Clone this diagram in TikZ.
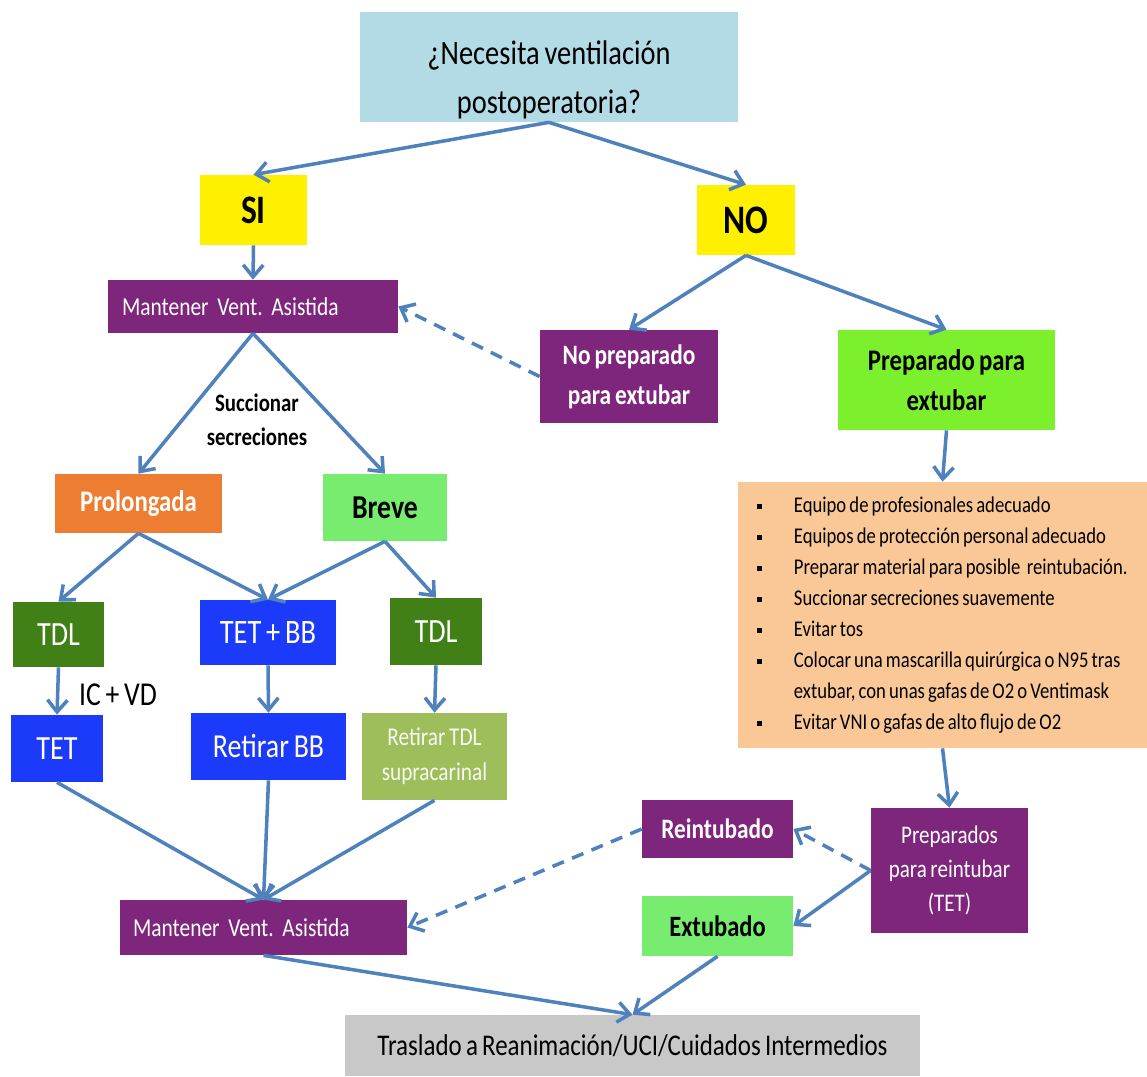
\documentclass[tikz,border=0pt]{standalone}
\usepackage{fontspec}
\setmainfont{Carlito}[FakeStretch=0.83,WordSpace=0.75]
\usetikzlibrary{arrows.meta}
\frenchspacing

\definecolor{qblue}{RGB}{178,219,229}
\definecolor{siyellow}{RGB}{255,240,0}
\definecolor{vpurple}{RGB}{126,38,124}
\definecolor{limegreen}{RGB}{124,240,44}
\definecolor{softgreen}{RGB}{120,236,110}
\definecolor{prolorange}{RGB}{237,125,49}
\definecolor{darkgreen}{RGB}{64,128,22}
\definecolor{tetblue}{RGB}{28,58,250}
\definecolor{olivegreen}{RGB}{158,190,92}
\definecolor{peach}{RGB}{250,200,150}
\definecolor{lightgrey}{RGB}{200,200,200}
\definecolor{arrowblue}{RGB}{79,129,189}

\newcommand{\sqbullet}{\raisebox{2.2pt}{\rule{2.8pt}{2.8pt}}}

\tikzset{
  box/.style={inner sep=0pt, align=center},
  purplebox/.style={box, fill=vpurple, text=white},
  conn/.style={draw=arrowblue, line width=2pt, -{Straight Barb[length=2.4mm,width=4mm]}},
  dashconn/.style={conn, dash pattern=on 7pt off 5pt},
}

\begin{document}
\begin{tikzpicture}
  \useasboundingbox[fill=white] (0,0) rectangle (22.94,-21.52);

  % question and answers
  \node[box, fill=qblue, minimum width=7.56cm, minimum height=2.2cm, font=\fontsize{19.5}{27.8}\selectfont] (q) at (10.98,-1.34) {\rule{0pt}{28pt}¿Necesita ventilación\\postoperatoria?};
  \node[box, fill=siyellow, minimum width=2.14cm, minimum height=1.4cm, font=\fontsize{23}{28}\selectfont\bfseries] (si) at (5.07,-4.2) {SI};
  \node[box, fill=siyellow, minimum width=1.96cm, minimum height=1.4cm, font=\fontsize{23}{28}\selectfont\bfseries] (no) at (14.92,-4.4) {NO};

  % SI branch
  \node[purplebox, minimum width=5.8cm, minimum height=1.06cm, text width=5.24cm, align=left, font=\fontsize{14.7}{18}\selectfont] (mva) at (5.06,-6.13) {Mantener Vent. Asistida};
  \node[box, font=\fontsize{14.3}{19.3}\selectfont\bfseries] (succ) at (5.14,-8.4) {Succionar\\secreciones};
  \node[box, fill=prolorange, text=white, minimum width=3.34cm, minimum height=1.18cm, font=\fontsize{17}{20}\selectfont\bfseries] (prol) at (2.77,-10.07) {Prolongada};
  \node[box, fill=softgreen, minimum width=2.48cm, minimum height=1.34cm, font=\fontsize{19}{22}\selectfont\bfseries] (breve) at (7.7,-10.15) {Breve};
  \node[box, fill=darkgreen, text=white, minimum width=1.82cm, minimum height=1.3cm, font=\fontsize{19.3}{22}\selectfont] (tdla) at (1.17,-12.69) {TDL};
  \node[box, fill=tetblue, text=white, minimum width=2.72cm, minimum height=1.3cm, font=\fontsize{19.5}{22}\selectfont] (tetbb) at (5.36,-12.65) {TET + BB};
  \node[box, fill=darkgreen, text=white, minimum width=1.84cm, minimum height=1.34cm, font=\fontsize{19.3}{22}\selectfont] (tdlb) at (8.72,-12.63) {TDL};
  \node[box, font=\fontsize{19}{22}\selectfont] (icvd) at (2.36,-13.9) {IC + VD};
  \node[box, fill=tetblue, text=white, minimum width=1.84cm, minimum height=1.34cm, font=\fontsize{19.3}{22}\selectfont] (tet) at (1.14,-14.97) {TET};
  \node[box, fill=tetblue, text=white, minimum width=3.1cm, minimum height=1.34cm, font=\fontsize{19.1}{22}\selectfont] (retbb) at (5.37,-14.93) {Retirar BB};
  \node[box, fill=olivegreen, text=white!92!olivegreen, minimum width=2.9cm, minimum height=1.74cm, font=\fontsize{14.6}{19.8}\selectfont] (rettdl) at (8.69,-15.13) {Retirar TDL\\supracarinal};
  \node[purplebox, minimum width=5.74cm, minimum height=1.1cm, text width=5.22cm, align=left, font=\fontsize{14.7}{18}\selectfont] (mvb) at (5.27,-18.55) {Mantener Vent. Asistida};

  % NO branch
  \node[purplebox, minimum width=3.56cm, minimum height=1.86cm, font=\fontsize{16}{22.7}\selectfont\bfseries] (noprep) at (12.58,-7.53) {No preparado\\para extubar};
  \node[box, fill=limegreen, minimum width=4.34cm, minimum height=2cm, font=\fontsize{17}{22.7}\selectfont\bfseries] (prep) at (18.93,-7.6) {Preparado para\\extubar};
  \node[box, fill=peach, minimum width=8.18cm, minimum height=5.32cm, font=\fontsize{12.8}{17.6}\selectfont] (check) at (18.85,-12.3) {%
    \begin{tabular}{@{}c@{\hspace{18pt}}l@{}}
      \sqbullet & Equipo de profesionales adecuado\\
      \sqbullet & Equipos de protección personal adecuado\\
      \sqbullet & Preparar material para posible\ \ reintubación.\\
      \sqbullet & Succionar secreciones suavemente\\
      \sqbullet & Evitar tos\\
      \sqbullet & Colocar una mascarilla quirúrgica o N95 tras\\
                & extubar, con unas gafas de O2 o Ventimask\\
      \sqbullet & Evitar VNI o gafas de alto flujo de O2
    \end{tabular}};
  \node[purplebox, minimum width=3.14cm, minimum height=2.5cm, font=\fontsize{14.4}{19.3}\selectfont] (preps) at (18.99,-17.41) {Preparados\\para reintubar\\(TET)};
  \node[purplebox, minimum width=3.02cm, minimum height=1.16cm, font=\fontsize{16}{20}\selectfont\bfseries] (reint) at (14.35,-16.58) {Reintubado};
  \node[box, fill=softgreen, minimum width=3.02cm, minimum height=1.2cm, font=\fontsize{16.8}{20}\selectfont\bfseries] (extub) at (14.35,-18.52) {Extubado};

  % destination
  \node[box, fill=lightgrey, minimum width=11.5cm, minimum height=1.22cm, font=\fontsize{17.1}{20}\selectfont] (trasl) at (12.65,-20.91) {Traslado a Reanimación/UCI/Cuidados Intermedios};

  % connectors
  \draw[conn] (q.south) -- (si.north);
  \draw[conn] (q.south) -- (no.north);
  \draw[conn] (si.south) -- (mva.north);
  \draw[conn] (no.south) -- (noprep.north);
  \draw[conn] (no.south) -- (prep.north);
  \draw[dashconn] (noprep.west) -- (mva.east);
  \draw[conn] (mva.south) -- (prol.north);
  \draw[conn] (mva.south) -- (breve.north);
  \draw[conn] (prol.south) -- (tdla.north);
  \draw[conn] (prol.south) -- (tetbb.north);
  \draw[conn] (breve.south) -- (tetbb.north);
  \draw[conn] (breve.south) -- (tdlb.north);
  \draw[conn] (tdla.south) -- (tet.north);
  \draw[conn] (tetbb.south) -- (retbb.north);
  \draw[conn] (tdlb.south) -- (rettdl.north);
  \draw[conn] (tet.south) -- (mvb.north);
  \draw[conn] (retbb.south) -- (mvb.north);
  \draw[conn] (rettdl.south) -- (mvb.north);
  \draw[conn] (prep.south) -- (check.north);
  \draw[conn] (check.south) -- (preps.north);
  \draw[dashconn] (preps.west) -- (reint.east);
  \draw[conn] (preps.west) -- (extub.east);
  \draw[dashconn] (reint.west) -- (mvb.east);
  \draw[conn] (mvb.south) -- (trasl.north);
  \draw[conn] (extub.south) -- (trasl.north);
\end{tikzpicture}
\end{document}
